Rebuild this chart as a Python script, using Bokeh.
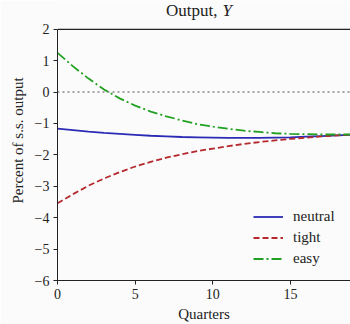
from bokeh.plotting import figure
from bokeh.models import Range1d, Span, Label, FixedTicker, Legend, LegendItem
from bokeh.embed import file_html
from bokeh.resources import INLINE

quarters = list(range(0, 21))
neutral = [-1.16, -1.21, -1.26, -1.30, -1.33, -1.36, -1.39, -1.41, -1.43, -1.44, -1.45,
           -1.46, -1.46, -1.46, -1.45, -1.44, -1.42, -1.40, -1.38, -1.36, -1.34]
tight = [-3.54, -3.25, -2.98, -2.75, -2.55, -2.37, -2.22, -2.09, -1.98, -1.88, -1.80,
         -1.72, -1.65, -1.59, -1.54, -1.49, -1.45, -1.41, -1.38, -1.35, -1.33]
easy = [1.25, 0.82, 0.43, 0.08, -0.20, -0.43, -0.62, -0.77, -0.90, -1.02, -1.10,
        -1.17, -1.23, -1.27, -1.31, -1.33, -1.34, -1.35, -1.35, -1.35, -1.34]
x_ticks = [0, 5, 10, 15]
y_ticks = [-6, -5, -4, -3, -2, -1, 0, 1, 2]
y_tick_labels = ["\u22126", "\u22125", "\u22124", "\u22123", "\u22122", "\u22121", "0", "1", "2"]
y_min, y_max = -6, 2
title_main = "Output,"
title_var = "Y"

FONT = "Liberation Serif"
BG = "#fbfbfb"
AX = "#222222"

# frame extends above y_max to leave room for the title inside the frame
p = figure(width=350, height=324, output_backend="svg", toolbar_location=None,
           x_range=Range1d(0, 18.86), y_range=Range1d(y_min, 2.917),
           min_border_left=57, min_border_right=0, min_border_top=0, min_border_bottom=42,
           background_fill_color=BG, border_fill_color=BG)
p.outline_line_color = None
p.grid.visible = False

for ax in (p.xaxis[0], p.yaxis[0]):
    ax.axis_line_color = AX
    ax.major_tick_line_color = AX
    ax.major_tick_in = 0
    ax.major_tick_out = 4
    ax.minor_tick_line_color = None
    ax.major_label_text_font = FONT
    ax.major_label_text_font_size = "14px"
    ax.major_label_text_color = "#222222"
    ax.axis_label_text_font = FONT
    ax.axis_label_text_font_size = "15px"
    ax.axis_label_text_font_style = "normal"
    ax.axis_label_text_color = "#222222"
    ax.major_label_standoff = 4

p.xaxis.ticker = FixedTicker(ticks=x_ticks)
p.yaxis.ticker = FixedTicker(ticks=y_ticks)
p.yaxis.bounds = (y_min, y_max)
p.yaxis.major_label_overrides = {t: l for t, l in zip(y_ticks, y_tick_labels)}
p.xaxis.axis_label = "Quarters"
p.yaxis.axis_label = "Percent of s.s. output"
p.xaxis.axis_label_standoff = 4
p.yaxis.axis_label_standoff = 6

# top spine
p.add_layout(Span(location=y_max, dimension="width", line_color=AX, line_width=1.2))
# zero line
p.add_layout(Span(location=0, dimension="width", line_color="#888888",
                  line_dash="2 3", line_width=1.5))

r_n = p.line(quarters, neutral, line_color="#2b2bb5", line_width=1.8)
r_t = p.line(quarters, tight, line_color="#b5292e", line_width=1.8, line_dash="6 3")
r_e = p.line(quarters, easy, line_color="#22a022", line_width=1.8, line_dash="10 3 2 3")

legend = Legend(items=[LegendItem(label="neutral", renderers=[r_n]),
                       LegendItem(label="tight", renderers=[r_t]),
                       LegendItem(label="easy", renderers=[r_e])],
                location=(196, 11), border_line_color=None, background_fill_alpha=0,
                padding=0, margin=0, spacing=0, glyph_width=30, glyph_height=21,
                label_height=21, label_standoff=10, label_text_font=FONT,
                label_text_font_size="15px", label_text_color="#222222")
p.add_layout(legend, "center")

p.add_layout(Label(x=160, y=270, x_units="screen", y_units="screen", text=title_main,
                   text_align="right", text_baseline="middle", text_font=FONT,
                   text_font_size="17px", text_color="#222222"))
p.add_layout(Label(x=165, y=270, x_units="screen", y_units="screen", text=title_var,
                   text_align="left", text_baseline="middle", text_font=FONT,
                   text_font_size="17px", text_font_style="italic", text_color="#222222"))

open("out.html", "w").write(file_html(p, INLINE))
